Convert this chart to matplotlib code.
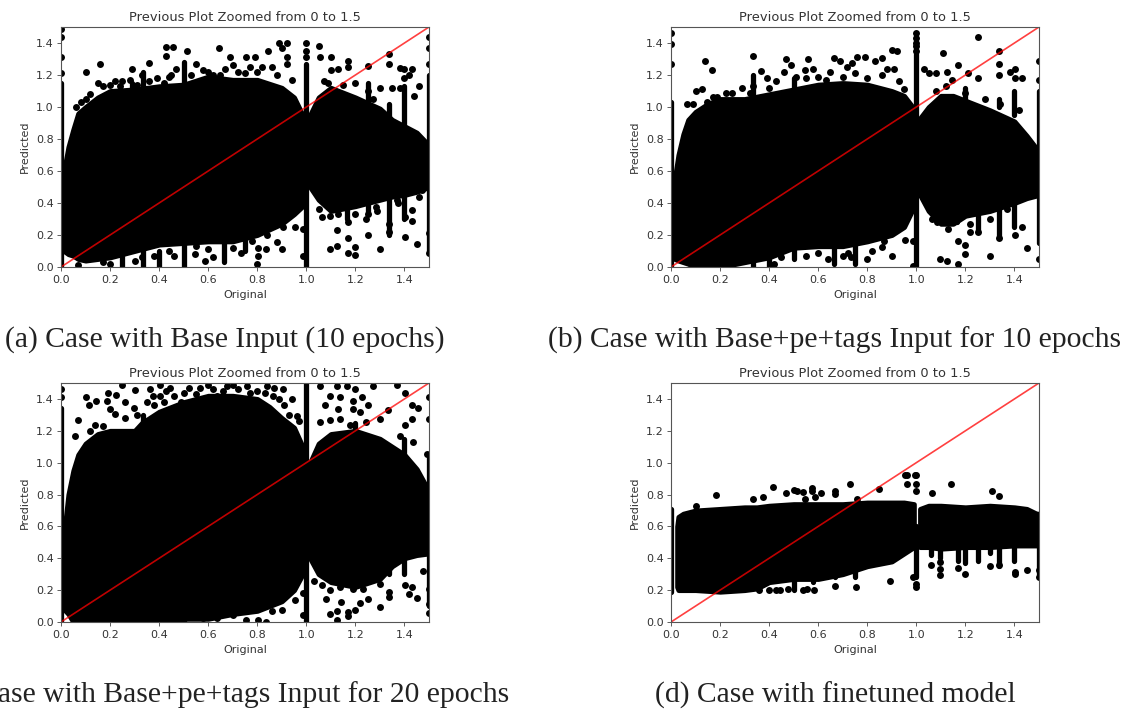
import numpy as np
import matplotlib
matplotlib.use("Agg")
import matplotlib.pyplot as plt

W, H = 1126, 711

ticks = [0.0, 0.2, 0.4, 0.6, 0.8, 1.0, 1.2, 1.4]
title = "Previous Plot Zoomed from 0 to 1.5"
captions = ["(a) Case with Base Input (10 epochs)",
            "(b) Case with Base+pe+tags Input for 10 epochs",
            "(c) Case with Base+pe+tags Input for 20 epochs",
            "(d) Case with finetuned model"]

# dense part of each cloud, read as top and bottom edge, left and right of x=1
a_lx = [0.012, 0.03, 0.05, 0.07, 0.1, 0.15, 0.2, 0.3, 0.4, 0.5, 0.6, 0.7, 0.8, 0.9, 0.95, 0.985]
a_lt = [0.6, 0.75, 0.86, 0.96, 1.0, 1.06, 1.1, 1.11, 1.13, 1.14, 1.19, 1.17, 1.17, 1.12, 1.06, 0.95]
a_lb = [0.1, 0.08, 0.07, 0.05, 0.04, 0.05, 0.06, 0.1, 0.14, 0.15, 0.16, 0.16, 0.2, 0.27, 0.33, 0.38]
a_rx = [1.015, 1.05, 1.1, 1.2, 1.3, 1.35, 1.4, 1.45, 1.5]
a_rt = [0.95, 1.06, 1.12, 1.06, 0.99, 0.92, 0.88, 0.84, 0.76]
a_rb = [0.5, 0.42, 0.35, 0.38, 0.42, 0.44, 0.45, 0.47, 0.5]

b_lx = [0.015, 0.03, 0.05, 0.07, 0.1, 0.15, 0.2, 0.3, 0.4, 0.5, 0.6, 0.7, 0.8, 0.9, 0.95, 0.985]
b_lt = [0.55, 0.7, 0.83, 0.92, 0.97, 1.02, 1.05, 1.05, 1.08, 1.11, 1.14, 1.15, 1.14, 1.1, 1.07, 1.0]
b_lb = [0.05, 0.04, 0.03, 0.02, 0.0, 0.0, 0.0, 0.03, 0.06, 0.12, 0.13, 0.13, 0.16, 0.2, 0.25, 0.36]
b_rx = [1.015, 1.05, 1.1, 1.15, 1.2, 1.3, 1.4, 1.45, 1.5]
b_rt = [0.93, 1.0, 1.07, 1.07, 1.04, 0.98, 0.91, 0.82, 0.72]
b_rb = [0.45, 0.35, 0.27, 0.27, 0.32, 0.35, 0.4, 0.43, 0.45]

c_lx = [0.012, 0.03, 0.05, 0.07, 0.1, 0.15, 0.2, 0.3, 0.33, 0.4, 0.5, 0.6, 0.7, 0.8, 0.85, 0.9, 0.95, 0.985]
c_lt = [0.55, 0.8, 0.95, 1.05, 1.12, 1.18, 1.2, 1.2, 1.25, 1.32, 1.38, 1.42, 1.42, 1.4, 1.35, 1.28, 1.22, 1.1]
c_lb = [0.08, 0.05, 0.0, 0.0, 0.0, 0.0, 0.0, 0.0, 0.0, 0.0, 0.02, 0.02, 0.05, 0.07, 0.1, 0.13, 0.2, 0.3]
c_rx = [1.015, 1.05, 1.1, 1.2, 1.3, 1.35, 1.4, 1.45, 1.5]
c_rt = [1.0, 1.12, 1.18, 1.2, 1.15, 1.1, 1.05, 0.96, 0.82]
c_rb = [0.4, 0.3, 0.25, 0.22, 0.27, 0.35, 0.4, 0.42, 0.43]

d_lx = [0.025, 0.03, 0.05, 0.1, 0.2, 0.3, 0.35, 0.4, 0.5, 0.6, 0.7, 0.8, 0.9, 0.95, 0.99]
d_lt = [0.6, 0.66, 0.68, 0.7, 0.71, 0.72, 0.72, 0.73, 0.74, 0.74, 0.74, 0.75, 0.75, 0.75, 0.74]
d_lb = [0.22, 0.2, 0.2, 0.2, 0.19, 0.2, 0.21, 0.25, 0.27, 0.27, 0.3, 0.35, 0.38, 0.43, 0.47]
d_rx = [1.015, 1.05, 1.1, 1.2, 1.3, 1.4, 1.45, 1.49, 1.5]
d_rt = [0.71, 0.73, 0.73, 0.72, 0.73, 0.72, 0.71, 0.68, 0.68]
d_rb = [0.47, 0.47, 0.46, 0.47, 0.47, 0.48, 0.48, 0.48, 0.48]

# columns of points at round x values: x, low, high
a_cols = [(0.0, 0.0, 1.15), (1.0, 0.0, 1.27), (0.5, 0.0, 0.2), (0.5, 1.1, 1.28), (0.335, 0.0, 0.2),
          (0.335, 1.05, 1.22), (0.25, 0.0, 0.1), (0.4, 0.0, 0.1), (0.665, 0.03, 0.2), (1.335, 0.2, 0.48),
          (1.5, 0.1, 0.5), (1.5, 0.75, 1.2), (1.167, 0.3, 0.4), (1.4, 0.3, 0.5), (1.25, 0.33, 0.45),
          (1.4, 0.85, 1.13), (1.335, 0.9, 1.02), (1.25, 1.0, 1.15), (0.29, 1.05, 1.15), (0.75, 0.1, 0.2)]
b_cols = [(0.0, 0.0, 1.03), (1.0, 0.0, 1.33), (0.335, 0.0, 0.12), (0.5, 0.05, 0.2), (0.665, 0.02, 0.15),
          (0.75, 0.02, 0.15), (0.5, 1.05, 1.18), (1.335, 0.18, 0.45), (1.25, 0.22, 0.38), (1.4, 0.25, 0.45),
          (1.5, 0.15, 0.5), (1.5, 0.75, 1.1), (1.335, 1.0, 1.05), (1.2, 1.0, 1.12), (1.167, 0.28, 0.4),
          (1.4, 0.95, 1.1), (0.4, 0.0, 0.07), (0.335, 1.08, 1.2)]
c_cols = [(0.0, 0.0, 1.34), (1.0, 0.0, 1.5), (1.5, 0.1, 0.6), (1.5, 0.8, 1.05), (0.5, 0.0, 0.1),
          (0.335, 1.2, 1.3), (1.4, 0.3, 0.43), (1.335, 0.3, 0.45), (1.4, 1.0, 1.15), (1.25, 0.28, 0.4),
          (1.2, 1.15, 1.25)]
d_cols = [(0.0, 0.19, 0.71), (1.0, 0.28, 0.6), (0.5, 0.2, 0.4), (1.5, 0.3, 0.5), (1.4, 0.38, 0.48),
          (1.17, 0.38, 0.5), (1.25, 0.38, 0.5), (1.2, 0.37, 0.5), (1.335, 0.35, 0.5), (0.667, 0.28, 0.35),
          (1.06, 0.42, 0.47), (1.096, 0.4, 0.47), (1.3, 0.43, 0.48), (0.75, 0.28, 0.33), (0.58, 0.25, 0.3)]

# points standing clear of the cloud
a_pts = [(0, 1.49), (0, 1.44), (0, 1.31), (0, 1.21), (0.1, 1.22), (0.157, 1.27), (0.29, 1.24), (0.36, 1.275),
         (0.43, 1.375), (0.455, 1.375), (0.43, 1.32), (0.515, 1.35), (0.645, 1.37), (0.69, 1.31), (0.755, 1.31),
         (0.79, 1.31), (0.845, 1.35), (0.89, 1.4), (0.92, 1.4), (0.9, 1.37), (0.92, 1.31), (1.0, 1.4), (1.0, 1.35),
         (1.0, 1.31), (1.05, 1.38), (1.055, 1.31), (1.1, 1.31), (1.17, 1.29), (1.335, 1.33), (1.335, 1.27),
         (1.25, 1.255), (1.38, 1.245), (1.4, 1.235), (1.43, 1.235), (1.4, 1.18), (1.46, 1.13), (1.5, 1.44),
         (1.5, 1.37), (1.5, 1.27), (0.15, 1.15), (0.2, 1.14), (0.25, 1.16), (0.28, 1.17), (0.33, 1.2), (0.39, 1.18),
         (0.45, 1.2), (0.47, 1.24), (0.55, 1.27), (0.58, 1.23), (0.62, 1.2), (0.67, 1.24), (0.72, 1.22), (0.77, 1.25),
         (0.82, 1.25), (0.86, 1.25), (0.92, 1.27), (1.07, 1.16), (1.1, 1.23), (1.13, 1.24), (1.17, 1.25), (1.2, 1.15),
         (1.25, 1.1), (1.3, 1.12), (1.35, 1.12), (1.38, 1.12), (1.44, 1.07), (1.42, 1.2), (0.805, 0.07), (0.8, 0.02),
         (0.805, 0.12), (0.835, 0.115), (0.88, 0.155), (0.9, 0.115), (0.585, 0.04), (0.62, 0.06), (0.545, 0.08),
         (0.735, 0.09), (0.985, 0.07), (0.955, 0.25), (0.985, 0.24), (0.905, 0.25), (1.063, 0.31), (1.096, 0.32),
         (1.126, 0.23), (1.096, 0.11), (1.126, 0.13), (1.17, 0.18), (1.17, 0.09), (1.2, 0.125), (1.2, 0.077),
         (1.25, 0.2), (1.3, 0.11), (1.335, 0.22), (1.335, 0.27), (1.404, 0.187), (1.45, 0.145), (1.404, 0.31),
         (1.43, 0.29), (1.43, 0.355), (1.374, 0.4), (1.5, 0.09), (1.5, 0.21), (1.46, 0.44), (0.07, 0.01), (1.17, 0.28),
         (1.2, 0.33), (1.245, 0.3), (1.286, 0.375),
         (0.06, 1.0), (0.08, 1.03), (0.1, 1.05), (0.12, 1.08), (0.17, 1.13), (0.22, 1.16), (0.24, 1.13), (0.31, 1.14),
         (0.36, 1.16), (0.42, 1.15), (0.44, 1.19), (0.53, 1.2), (0.6, 1.22), (0.65, 1.2), (0.7, 1.26), (0.75, 1.21),
         (0.8, 1.22), (0.88, 1.2), (0.94, 1.17), (0.17, 0.03), (0.2, 0.02), (0.3, 0.04), (0.33, 0.06), (0.38, 0.07),
         (0.44, 0.1), (0.46, 0.07), (0.55, 0.13), (0.6, 0.11), (0.7, 0.12), (0.78, 0.16), (0.84, 0.2), (1.05, 0.36),
         (1.13, 0.33), (1.25, 0.33), (1.29, 0.35), (1.37, 0.42), (1.47, 0.48), (1.09, 1.15), (1.15, 1.14), (1.27, 1.05)]
b_pts = [(0, 1.465), (0, 1.395), (0, 1.27), (0.14, 1.285), (0.167, 1.23), (0.336, 1.32), (0.468, 1.3), (0.49, 1.26),
         (0.368, 1.225), (0.56, 1.3), (0.666, 1.305), (0.687, 1.285), (0.76, 1.31), (0.79, 1.31), (0.83, 1.285),
         (0.86, 1.305), (0.9, 1.355), (0.92, 1.35), (0.737, 1.275), (0.716, 1.25), (0.91, 1.24), (0.88, 1.24),
         (1.0, 1.46), (1.0, 1.43), (1.0, 1.4), (1.0, 1.38), (1.0, 1.35), (1.11, 1.335), (1.25, 1.44), (1.335, 1.35),
         (1.17, 1.26), (1.03, 1.235), (1.05, 1.21), (1.08, 1.21), (1.126, 1.22), (1.144, 1.17), (1.21, 1.21),
         (1.38, 1.22), (1.404, 1.235), (1.404, 1.18), (1.43, 1.18), (1.5, 1.29), (1.5, 1.17), (1.335, 1.27),
         (1.335, 1.2), (1.25, 1.18), (0.1, 1.1), (0.125, 1.115), (0.065, 1.02), (0.146, 1.03), (0.187, 1.06),
         (0.224, 1.09), (0.288, 1.12), (0.336, 1.13), (0.39, 1.18), (0.46, 1.22), (0.51, 1.19), (0.547, 1.23),
         (0.58, 1.235), (0.65, 1.22), (0.9, 0.07), (0.86, 0.125), (0.955, 0.17), (0.985, 0.165), (0.985, 0.005),
         (1.096, 0.05), (1.126, 0.04), (1.17, 0.02), (1.17, 0.165), (1.2, 0.135), (1.2, 0.083), (1.3, 0.07),
         (1.404, 0.2), (1.45, 0.12), (1.5, 0.05), (1.43, 0.25), (1.335, 0.18), (1.25, 0.22), (1.218, 0.22),
         (1.063, 0.3), (1.083, 0.28), (0.7, 0.07), (0.798, 0.05), (0.734, 0.06),
         (0.09, 1.02), (0.17, 1.06), (0.25, 1.09), (0.32, 1.09), (0.4, 1.12), (0.43, 1.16), (0.55, 1.18), (0.6, 1.19),
         (0.63, 1.17), (0.7, 1.19), (0.75, 1.21), (0.8, 1.18), (0.86, 1.2), (0.93, 1.16), (0.95, 1.11), (1.08, 1.1),
         (1.12, 1.13), (1.2, 1.09), (1.28, 1.05), (1.34, 1.02), (1.42, 0.98), (0.2, 0.03), (0.42, 0.02), (0.45, 0.06),
         (0.55, 0.07), (0.6, 0.09), (0.64, 0.05), (0.72, 0.09), (0.82, 0.1), (0.87, 0.16), (1.13, 0.24), (1.22, 0.27),
         (1.3, 0.3), (1.37, 0.36)]
c_pts = [(0.1, 1.41), (0.113, 1.36), (0.144, 1.385), (0.187, 1.39), (0.19, 1.44), (0.225, 1.425), (0.25, 1.49),
         (0.3, 1.455), (0.2, 1.335), (0.22, 1.305), (0.26, 1.38), (0.296, 1.34), (0.07, 1.265), (0.058, 1.17),
         (0.14, 1.235), (0.364, 1.46), (0.35, 1.38), (0.404, 1.49), (0.445, 1.47), (0.404, 1.42), (0.377, 1.42),
         (0.5, 1.44), (0.49, 1.38), (0.567, 1.47), (0.635, 1.42), (0.675, 1.48), (0.757, 1.48), (0.84, 1.48),
         (0.906, 1.46), (0.94, 1.4), (0.866, 1.42), (0.96, 1.295), (1.055, 1.48), (1.123, 1.48), (1.164, 1.48),
         (1.2, 1.46), (1.096, 1.42), (1.137, 1.41), (1.076, 1.36), (1.13, 1.335), (1.19, 1.39), (1.225, 1.41),
         (1.19, 1.335), (1.218, 1.315), (1.25, 1.36), (1.273, 1.48), (1.368, 1.49), (1.404, 1.44), (1.43, 1.36),
         (1.455, 1.34), (1.43, 1.275), (1.404, 1.235), (1.3, 1.275), (1.334, 1.33), (1.245, 1.255), (1.137, 1.275),
         (1.178, 1.235), (1.055, 1.255), (1.096, 1.265), (1.38, 1.17), (1.436, 1.13), (1.49, 1.055), (1.5, 1.41),
         (1.5, 1.275), (0, 1.46), (0, 1.41), (1.5, 0.11), (1.5, 0.055), (1.3, 0.095), (1.25, 0.145), (1.22, 0.12),
         (1.2, 0.075), (1.17, 0.065), (1.17, 0.04), (1.143, 0.125), (1.126, 0.07), (1.126, 0.015), (1.096, 0.05),
         (1.08, 0.145), (1.335, 0.19), (1.335, 0.16), (1.418, 0.177), (1.45, 0.15), (1.404, 0.235), (1.43, 0.22),
         (1.476, 0.317), (1.5, 0.21), (1.096, 0.2), (1.137, 0.22), (1.19, 0.21), (1.3, 0.24), (1.03, 0.255),
         (1.063, 0.233), (1.23, 0.21), (0.985, 0.045), (0.985, 0.18), (0.955, 0.14), (0.9, 0.077), (0.862, 0.067),
         (0.835, 0.0), (0.805, 0.01), (0.754, 0.01), (0.703, 0.045), (0.635, 0.025), (0.58, 0.025),
         (0.42, 1.38), (0.46, 1.42), (0.43, 1.45), (0.52, 1.47), (0.55, 1.43), (0.6, 1.49), (0.62, 1.46), (0.66, 1.45),
         (0.7, 1.49), (0.72, 1.46), (0.77, 1.44), (0.8, 1.45), (0.83, 1.44), (0.87, 1.47), (0.89, 1.4), (0.91, 1.36),
         (0.93, 1.3), (0.97, 1.26), (0.38, 1.36), (0.31, 1.3), (0.26, 1.28), (0.17, 1.23), (0.12, 1.2)]
d_pts = [(0.185, 0.8), (0.103, 0.73), (0.336, 0.775), (0.377, 0.785), (0.414, 0.85), (0.468, 0.81), (0.5, 0.83),
         (0.515, 0.825), (0.537, 0.815), (0.574, 0.84), (0.574, 0.825), (0.547, 0.775), (0.587, 0.785), (0.613, 0.81),
         (0.669, 0.82), (0.669, 0.805), (0.73, 0.865), (0.76, 0.775), (0.848, 0.835), (0.963, 0.92), (0.955, 0.92),
         (0.963, 0.865), (1.0, 0.925), (0.995, 0.925), (1.0, 0.865), (1.0, 0.82), (1.063, 0.81), (1.143, 0.865),
         (1.307, 0.82), (1.336, 0.79), (0.36, 0.2), (0.4, 0.2), (0.43, 0.2), (0.445, 0.2), (0.476, 0.205),
         (0.537, 0.2), (0.553, 0.21), (0.583, 0.2), (0.669, 0.225), (0.754, 0.22), (0.893, 0.26), (1.0, 0.24),
         (1.0, 0.22), (0.985, 0.28), (1.058, 0.36), (1.096, 0.375), (1.096, 0.33), (1.096, 0.295), (1.17, 0.34),
         (1.2, 0.3), (1.3, 0.35), (1.336, 0.36), (1.404, 0.315), (1.404, 0.3), (1.45, 0.325), (1.5, 0.325),
         (1.5, 0.285)]

panels = [(a_lx, a_lt, a_lb, a_rx, a_rt, a_rb, a_cols, a_pts),
          (b_lx, b_lt, b_lb, b_rx, b_rt, b_rb, b_cols, b_pts),
          (c_lx, c_lt, c_lb, c_rx, c_rt, c_rb, c_cols, c_pts),
          (d_lx, d_lt, d_lb, d_rx, d_rt, d_rb, d_cols, d_pts)]

# pixel boxes: left, top, right, bottom
boxes = [(61, 27, 429, 267), (671, 27, 1039, 267), (61, 383, 429, 622), (671, 383, 1039, 622)]
cap_pos = [(224.5, 340), (835, 340), (223.5, 695), (835, 695)]

fig = plt.figure(figsize=(W / 100, H / 100), dpi=100)

for p, box, cap, cap_xy in zip(panels, boxes, captions, cap_pos):
    lx, lt, lb, rx, rt, rb, cols, pts = p
    l, t, r, b = box
    ax = fig.add_axes([l / W, 1 - b / H, (r - l) / W, (b - t) / H])
    ax.fill_between(lx, lb, lt, color="black", lw=3.5)
    ax.fill_between(rx, rb, rt, color="black", lw=3.5)
    for cx, lo, hi in cols:
        ax.plot([cx, cx], [lo, hi], color="black", lw=3.8, solid_capstyle="round")
    pts = np.array(pts)
    ax.scatter(pts[:, 0], pts[:, 1], s=25, color="black", linewidths=0)
    ax.plot([0, 1.5], [0, 1.5], color="red", lw=1.2, alpha=0.75)
    ax.set_xlim(0, 1.5)
    ax.set_ylim(0, 1.5)
    ax.set_xticks(ticks)
    ax.set_yticks(ticks)
    ax.tick_params(labelsize=8, length=2.6, width=0.6, color="#444444", labelcolor="#333333")
    ax.tick_params(axis="x", pad=3.5)
    ax.tick_params(axis="y", pad=2.5)
    for s in ax.spines.values():
        s.set_color("#555555")
        s.set_linewidth(0.8)
    ax.set_title(title, fontsize=9.4, color="#333333", pad=4.2)
    ax.set_xlabel("Original", fontsize=8, color="#333333", labelpad=3.5)
    ax.set_ylabel("Predicted", fontsize=8, color="#333333", labelpad=4.5)
    fig.text(cap_xy[0] / W, 1 - cap_xy[1] / H, cap, ha="center", va="center",
             fontsize=21.3, family="Liberation Serif", color="#222222")

fig.savefig("out.png", dpi=100)
